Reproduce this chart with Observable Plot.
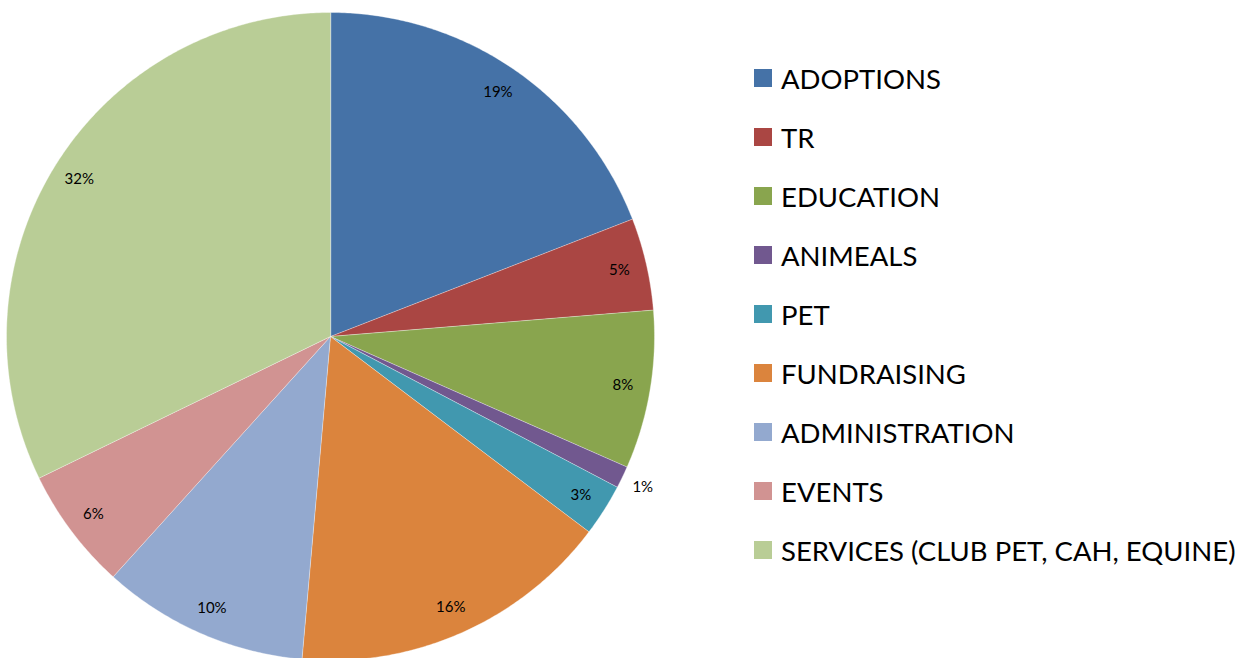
<!DOCTYPE html>
<html>
<head>
<meta charset="utf-8">
<script src="https://cdn.jsdelivr.net/npm/d3@7"></script>
<script src="https://cdn.jsdelivr.net/npm/@observablehq/plot@0.6"></script>
<style>
  html, body { margin: 0; padding: 0; background: #fff; }
  #wrap { position: relative; width: 1259px; height: 658px; overflow: hidden; }
  #legend { position: absolute; left: 754px; top: 69px; font-family: Lato, "Open Sans", sans-serif; font-size: 27.5px; color: #000; }
  .row { display: flex; margin: 0; height: 59px; align-items: flex-start; }
  .sw { width: 18px; height: 18px; margin-right: 9px; flex: none; }
  .lab { line-height: 18px; position: relative; top: 1px; white-space: nowrap; }
</style>
</head>
<body>
<div id="wrap"></div>
<script>
const categories = ["ADOPTIONS", "TR", "EDUCATION", "ANIMEALS", "PET", "FUNDRAISING", "ADMINISTRATION", "EVENTS", "SERVICES (CLUB PET, CAH, EQUINE)"];
const values = [19.1, 4.6, 7.9, 1.1, 2.6, 16.1, 10.3, 6.1, 32.2];
const colors = ["#4572A7", "#AA4643", "#89A54E", "#71588F", "#4198AF", "#DB843D", "#93A9CF", "#D19392", "#B9CD96"];

const total = d3.sum(values);
const pie = d3.pie().sort(null).value(d => d.value)(categories.map((c, i) => ({cat: c, value: values[i]})));

// polygon points for each slice in unit coordinates (y up, angle clockwise from top)
const pts = [];
pie.forEach(s => {
  const n = Math.max(2, Math.ceil((s.endAngle - s.startAngle) / (Math.PI / 360)));
  pts.push({cat: s.data.cat, x: 0, y: 0});
  for (let k = 0; k <= n; k++) {
    const a = s.startAngle + (s.endAngle - s.startAngle) * k / n;
    pts.push({cat: s.data.cat, x: Math.sin(a), y: Math.cos(a)});
  }
});

const labels = pie.map(s => {
  const a = (s.startAngle + s.endAngle) / 2;
  const pct = s.data.value / total * 100;
  const r = pct < 2 ? 1.07 : 0.915;
  return {cat: s.data.cat, x: r * Math.sin(a), y: r * Math.cos(a), text: Math.round(pct) + "%"};
});

const plot = Plot.plot({
  width: 1259,
  height: 658,
  margin: 0,
  x: {domain: [-1, 1], range: [6, 654], axis: null},
  y: {domain: [-1, 1], range: [660, 12], axis: null},
  color: {domain: categories, range: colors},
  style: {fontFamily: "Lato, 'Open Sans', sans-serif", background: "#fff"},
  marks: [
    Plot.line(pts, {x: "x", y: "y", z: "cat", fill: "cat", stroke: "#fff", strokeWidth: 0.6, strokeOpacity: 0.6, curve: "linear-closed"}),
    Plot.text(labels, {x: "x", y: "y", text: "text", fontSize: 15, fill: "#000"})
  ]
});
document.getElementById("wrap").appendChild(plot);

const legend = document.createElement("div");
legend.id = "legend";
categories.forEach((c, i) => {
  const row = document.createElement("div");
  row.className = "row";
  const sw = document.createElement("div");
  sw.className = "sw";
  sw.style.background = colors[i];
  const lab = document.createElement("div");
  lab.className = "lab";
  lab.textContent = c;
  row.appendChild(sw);
  row.appendChild(lab);
  legend.appendChild(row);
});
document.getElementById("wrap").appendChild(legend);
</script>
</body>
</html>
